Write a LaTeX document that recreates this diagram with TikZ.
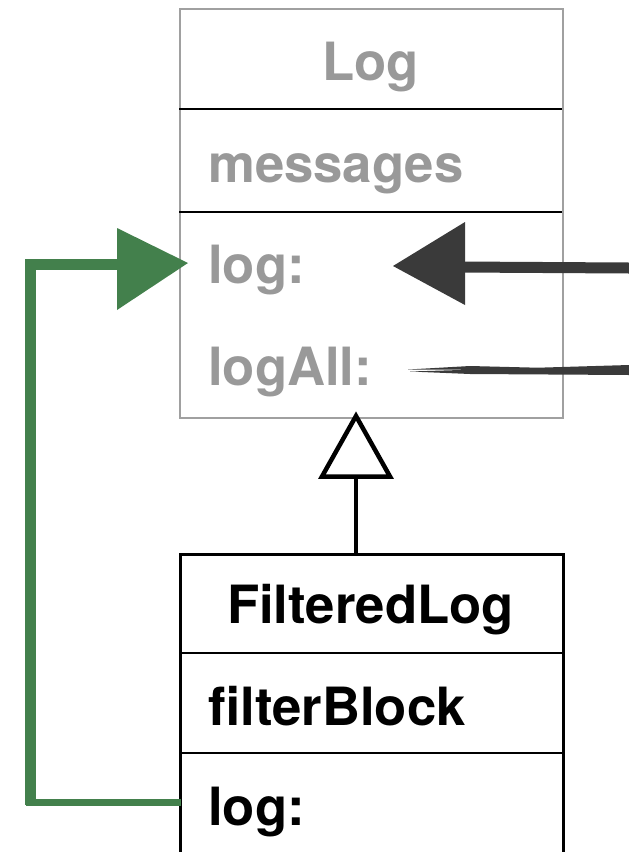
\documentclass[tikz,border=0pt]{standalone}
\usepackage{fontspec}
\setmainfont{TeX Gyre Heros}
\definecolor{txtgray}{HTML}{999999}
\definecolor{boxgray}{HTML}{A0A0A0}
\definecolor{sketchgreen}{HTML}{43804C}
\definecolor{sketchdark}{HTML}{3A3A3A}
\begin{document}
\begin{tikzpicture}[x=1pt,y=-1pt,
  lbl/.style={inner sep=0pt, font=\fontsize{52.7}{60}\selectfont\bfseries},
  grey/.style={lbl, text=txtgray},
  blk/.style={lbl, text=black},
  sepline/.style={black, line width=2.2pt},
  greenline/.style={sketchgreen, line cap=butt, line join=miter},
  darkline/.style={sketchdark, line cap=butt}]
\useasboundingbox (0,0) rectangle (629,852);
% ---- Log class ----
\node[draw=boxgray, line width=2pt, minimum width=383pt, minimum height=409pt, inner sep=0pt, anchor=north west] (logbox) at (179,8) {};
\draw[sepline] (179,109) -- (562,109);
\draw[sepline] (179,212) -- (562,212);
\node[grey, anchor=base] (logname) at (370.5,80) {Log};
\node[grey, anchor=base west] (messages) at (208,182) {messages};
\node[grey, anchor=base west] (logm) at (208,283) {log:};
\node[grey, anchor=base west] (logall) at (208,385) {logAll:};
% ---- FilteredLog class ----
\node[draw=black, line width=2.5pt, minimum width=383pt, minimum height=320pt, inner sep=0pt, anchor=north west] (fbox) at (179,553) {};
\draw[sepline] (179,653) -- (562,653);
\draw[sepline] (179,753) -- (562,753);
\node[blk, anchor=base] (fname) at (370.5,623) {FilteredLog};
\node[blk, anchor=base west] (filterblock) at (208,725) {filterBlock};
\node[blk, anchor=base west] (flog) at (208,825) {log:};
% ---- inheritance ----
\coordinate (apex) at (356,416);
\coordinate (tbase) at (356,476.5);
\draw[black, line width=4.5pt] (tbase) -- (356,553);
\draw[black, line width=4.5pt, fill=white, line join=miter] (apex) -- (322,476.5) -- (390,476.5) -- cycle;
% ---- green sketch arrow ----
\coordinate (gstart) at (181,802);
\coordinate (gtip) at (188,263);
\draw[greenline, line width=7pt] (gstart) -- (26,802);
\draw[greenline, line width=11pt] (30,805) -- (30,264.5) -- (124,264.5);
\fill[sketchgreen] (117,228) -- (gtip) -- (117,310) -- cycle;
% ---- dark sketch arrows ----
\coordinate (dtip) at (393,266);
\coordinate (dright) at (629,268);
\draw[darkline, line width=11pt] (dright) -- (458,267);
\fill[sketchdark] (465,222) -- (dtip) -- (465,305) -- cycle;
\coordinate (aright) at (629,370);
\fill[sketchdark] (408,369.5) -- (470,366) -- (aright) ++(0,-5) -- (629,375) -- (470,374) -- (410,371.5) -- cycle;
\end{tikzpicture}
\end{document}
